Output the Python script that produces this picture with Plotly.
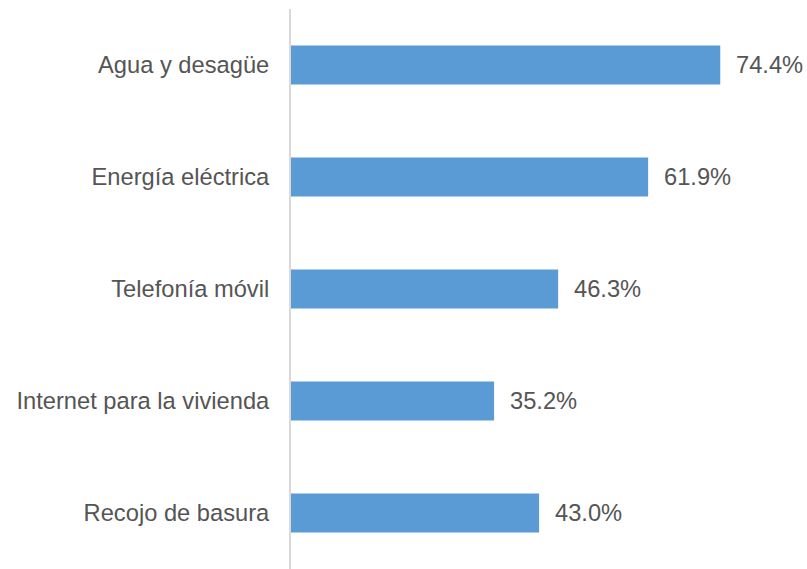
import plotly.graph_objects as go

categories = ["Agua y desagüe", "Energía eléctrica", "Telefonía móvil",
              "Internet para la vivienda", "Recojo de basura"]
values = [74.4, 61.9, 46.3, 35.2, 43.0]
labels = [f"{v:.1f}%" for v in values]

FONT = dict(family="Liberation Sans, Arial", size=23.7, color="#555555")

fig = go.Figure()
fig.add_trace(go.Bar(
    x=values, y=categories, orientation="h",
    marker=dict(color="#5B9BD5", line=dict(width=0)),
    width=0.35, hoverinfo="skip",
))
for v, c, t in zip(values, categories, labels):
    fig.add_annotation(x=v, y=c, text=t, showarrow=False, xanchor="left",
                       xshift=14, font=FONT)

fig.update_layout(
    width=807, height=569,
    margin=dict(l=291, r=10, t=9, b=0),
    paper_bgcolor="white", plot_bgcolor="white",
    showlegend=False,
    font=FONT,
    xaxis=dict(range=[0, 87.7], visible=False, showgrid=False, zeroline=False),
    yaxis=dict(autorange="reversed", showline=True, linecolor="#D9D9D9", linewidth=2,
               showgrid=False, ticks="", ticklabelstandoff=15, tickfont=FONT),
)
fig.write_html("out.html", config={"displayModeBar": False},
               post_script="document.body.style.margin='0';document.body.style.overflow='hidden';")
